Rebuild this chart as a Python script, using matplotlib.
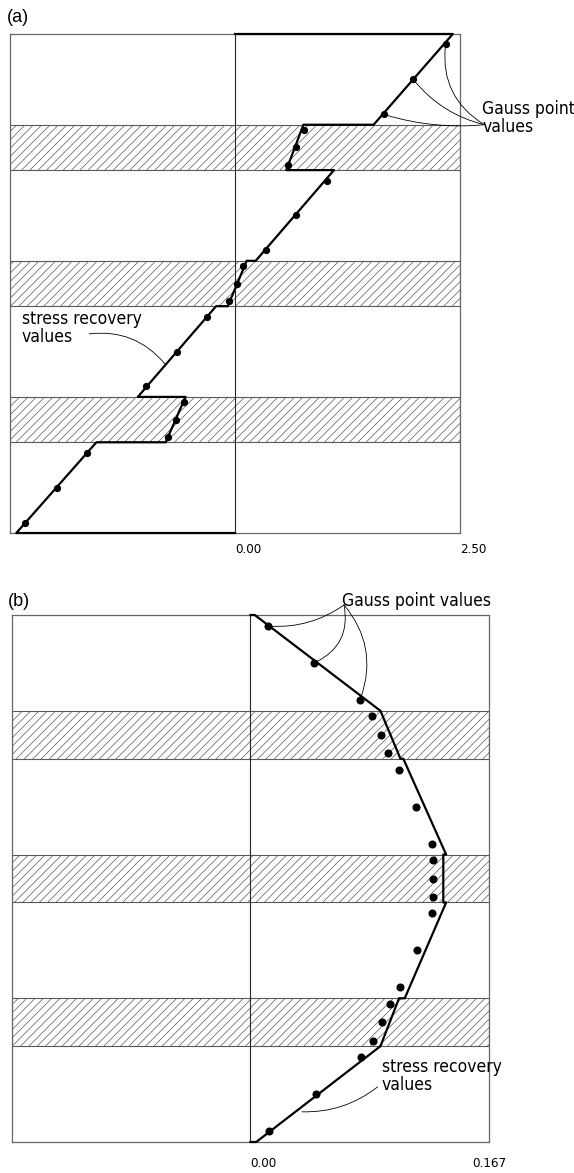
import numpy as np
import matplotlib.pyplot as plt
from matplotlib import font_manager

plt.rcParams['hatch.linewidth'] = 0.5

# laminate: layer boundaries through the thickness (bottom = 0)
layer_bounds = [0, 2, 3, 5, 6, 8, 9, 11]
hatched_layers = [(2, 3), (5, 6), (8, 9)]
gauss_z = [10.77, 10.0, 9.23, 8.89, 8.5, 8.11, 7.77, 7.0, 6.23, 5.89, 5.5,
           5.11, 4.77, 4.0, 3.23, 2.89, 2.5, 2.11, 1.77, 1.0, 0.23]

# (a) in-plane stress
a_rec_x = [0.0, 2.42, 1.54, 0.76, 0.57, 1.10, 0.23, 0.13, -0.08, -0.21,
           -1.08, -0.55, -0.77, -1.54, -2.43, 0.0]
a_rec_z = [11, 11, 9, 9, 8, 8, 6, 6, 5, 5, 3, 3, 2, 2, 0, 0]
a_gauss_x = [2.34, 1.98, 1.65, 0.77, 0.68, 0.59, 1.02, 0.68, 0.34, 0.09, 0.02,
             -0.07, -0.31, -0.65, -0.99, -0.57, -0.66, -0.75, -1.64, -1.98, -2.33]

# (b) transverse shear stress
b_rec_x = [0.0, 0.003, 0.091, 0.105, 0.107, 0.137, 0.135, 0.135, 0.137,
           0.108, 0.104, 0.091, 0.004, 0.0]
b_rec_z = [11, 11, 9, 8, 8, 6, 6, 5, 5, 3, 3, 2, 0, 0]
b_gauss_x = [0.012, 0.0445, 0.0767, 0.0853, 0.0912, 0.0965, 0.104, 0.1157,
             0.1269, 0.1276, 0.1276, 0.1276, 0.1269, 0.1164, 0.1047, 0.0977,
             0.0919, 0.086, 0.0774, 0.0456, 0.013]

# narrow lettering for the labels; use condensed DejaVu if it is on the system
have_cond = any('Condensed' in f.name or f.stretch in ('condensed', 'semi-condensed')
                for f in font_manager.fontManager.ttflist
                if f.name.startswith('DejaVu Sans'))
label_font = dict(family='DejaVu Sans', stretch='condensed') if have_cond \
    else dict(family='DejaVu Sans')
ann_size = 12.5 if have_cond else 10
tick_size = 9.5 if have_cond else 8

W, H = 574, 1173
fig = plt.figure(figsize=(W / 100, H / 100), dpi=100)
ax_a = fig.add_axes([10 / W, 1 - 533 / H, 450 / W, 499 / H])
ax_b = fig.add_axes([12 / W, 1 - 1142 / H, 477 / W, 527 / H])


def draw_laminate(ax, xmax):
    ax.set_xlim(-xmax, xmax)
    ax.set_ylim(0, layer_bounds[-1])
    for lo, hi in hatched_layers:
        ax.axhspan(lo, hi, facecolor='white', edgecolor='0.35',
                   hatch='////', linewidth=0.8, zorder=1)
    ax.axvline(0, color='0.15', lw=0.8, zorder=2)
    ax.set_xticks([])
    ax.set_yticks([])
    for sp in ax.spines.values():
        sp.set_color('0.4')
        sp.set_linewidth(0.9)


draw_laminate(ax_a, 2.5)
ax_a.plot(a_rec_x, a_rec_z, color='black', lw=1.6, zorder=3, clip_on=False)
ax_a.plot(a_gauss_x, gauss_z, 'o', color='black', ms=4.2, zorder=4)

tr = ax_a.get_xaxis_transform()
ax_a.text(0, -0.034, '0.00', transform=tr, ha='left', va='center',
          fontsize=tick_size, **label_font)
ax_a.text(2.5, -0.034, '2.50', transform=tr, ha='left', va='center',
          fontsize=tick_size, **label_font)

ax_a.text(2.75, 9.15, 'Gauss point\nvalues', ha='left', va='center',
          fontsize=ann_size, linespacing=1.05, clip_on=False, **label_font)
for i, rad in zip([0, 1, 2], [-0.32, -0.17, -0.1]):
    ax_a.annotate('', xy=(a_gauss_x[i], gauss_z[i]), xytext=(2.77, 9.0),
                  annotation_clip=False,
                  arrowprops=dict(arrowstyle='-', lw=0.6, color='black',
                                  shrinkA=0, shrinkB=2,
                                  connectionstyle=f'arc3,rad={rad}'))

ax_a.text(-2.37, 4.52, 'stress recovery\nvalues', ha='left', va='center',
          fontsize=ann_size, linespacing=1.05, **label_font)
ax_a.annotate('', xy=(-0.78, 3.73), xytext=(-1.62, 4.39),
              arrowprops=dict(arrowstyle='-', lw=0.6, color='black',
                              shrinkA=0, shrinkB=0,
                              connectionstyle='arc3,rad=-0.27'))

draw_laminate(ax_b, 0.167)
ax_b.plot(b_rec_x, b_rec_z, color='black', lw=1.6, zorder=3, clip_on=False)
ax_b.plot(b_gauss_x, gauss_z, 'o', color='black', ms=4.8, zorder=4)

tr = ax_b.get_xaxis_transform()
ax_b.text(0, -0.04, '0.00', transform=tr, ha='left', va='center',
          fontsize=tick_size, **label_font)
ax_b.text(0.167, -0.04, '0.167', transform=tr, ha='center', va='center',
          fontsize=tick_size, **label_font)

ax_b.text(0.064, 11.3, 'Gauss point values', ha='left', va='center',
          fontsize=ann_size, clip_on=False, **label_font)
for i, rad in zip([0, 1, 2], [-0.18, -0.39, -0.29]):
    ax_b.annotate('', xy=(b_gauss_x[i], gauss_z[i]), xytext=(0.0655, 11.21),
                  annotation_clip=False,
                  arrowprops=dict(arrowstyle='-', lw=0.6, color='black',
                                  shrinkA=0, shrinkB=2,
                                  connectionstyle=f'arc3,rad={rad}'))

ax_b.text(0.092, 1.38, 'stress recovery\nvalues', ha='left', va='center',
          fontsize=ann_size, linespacing=1.05, clip_on=False, **label_font)
ax_b.annotate('', xy=(0.036, 0.63), xytext=(0.089, 1.15),
              arrowprops=dict(arrowstyle='-', lw=0.6, color='black',
                              shrinkA=0, shrinkB=0,
                              connectionstyle='arc3,rad=-0.18'))

fig.text(7 / W, 1 - 17 / H, '(a)', ha='left', va='center', fontsize=13,
         family=['Liberation Sans', 'DejaVu Sans'])
fig.text(8 / W, 1 - 601 / H, '(b)', ha='left', va='center', fontsize=13,
         family=['Liberation Sans', 'DejaVu Sans'])

fig.savefig('out.png', dpi=100)
